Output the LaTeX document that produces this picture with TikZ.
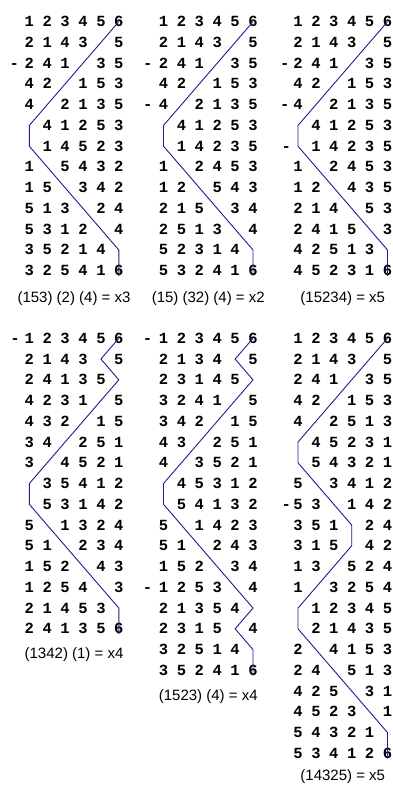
\documentclass[tikz,border=0pt]{standalone}
\usepackage{fontspec}
\setmainfont{Liberation Sans}
\newfontfamily\digfont{Liberation Mono}
\definecolor{trailblue}{RGB}{30,30,140}
\tikzset{
  dig/.style={font=\digfont\bfseries\fontsize{15.5}{15.5}\selectfont, inner sep=0pt, text height=10pt, text depth=0pt, anchor=center},
  trail/.style={draw=trailblue, line width=0.9pt, line join=miter},
  captext/.style={font=\fontsize{15}{15}\selectfont, inner sep=0pt, anchor=center}
}
\newcommand\pnlx{0}
\newcommand\pnly{0}
\newcommand\pnln{A}
\newcommand\prow[2]{\foreach \pd [count=\pc] in {#2}{\node[dig] (\pnln-#1-\pc) at ({\pnlx+(\pc-1)*17.9},{\pnly+(#1-1)*20.75}) {\pd};}}
\newcommand\pdash[2]{\node[dig] (\pnln-#1-0) at ({\pnlx-#2},{\pnly+(#1-1)*20.75}) {-};}
\newcommand\ptrail[2]{\draw[trail] (\pnln-1-6.center) \foreach \pc [count=\pr from 2] in {#1} {-- (\pnln-\pr-\pc.center)} -- (\pnln-#2-6.south);}
\newcommand\pcap[2]{\node[captext] (\pnln-cap) at ({\pnlx+44.75},{#1}) {#2};}
\begin{document}
\begin{tikzpicture}[x=1pt,y=-1pt]
\useasboundingbox (0,0) rectangle (393,785);
% ---------- Panel A ----------
\renewcommand\pnlx{29.3}\renewcommand\pnly{21.7}\renewcommand\pnln{A}
\prow{1}{1,2,3,4,5,6}
\prow{2}{2,1,4,3,,5}
\prow{3}{2,4,1,,3,5}\pdash{3}{15}
\prow{4}{4,2,,1,5,3}
\prow{5}{4,,2,1,3,5}
\prow{6}{,4,1,2,5,3}
\prow{7}{,1,4,5,2,3}
\prow{8}{1,,5,4,3,2}
\prow{9}{1,5,,3,4,2}
\prow{10}{5,1,3,,2,4}
\prow{11}{5,3,1,2,,4}
\prow{12}{3,5,2,1,4,}
\prow{13}{3,2,5,4,1,6}
\ptrail{5,4,3,2,1,1,2,3,4,5,6}{13}
\pcap{299}{(153) (2) (4) = x3}
% ---------- Panel B ----------
\renewcommand\pnlx{163.5}\renewcommand\pnly{21.7}\renewcommand\pnln{B}
\prow{1}{1,2,3,4,5,6}
\prow{2}{2,1,4,3,,5}
\prow{3}{2,4,1,,3,5}\pdash{3}{15.7}
\prow{4}{4,2,,1,5,3}
\prow{5}{4,,2,1,3,5}\pdash{5}{15.7}
\prow{6}{,4,1,2,5,3}
\prow{7}{,1,4,2,3,5}
\prow{8}{1,,2,4,5,3}
\prow{9}{1,2,,5,4,3}
\prow{10}{2,1,5,,3,4}
\prow{11}{2,5,1,3,,4}
\prow{12}{5,2,3,1,4,}
\prow{13}{5,3,2,4,1,6}
\ptrail{5,4,3,2,1,1,2,3,4,5,6}{13}
\pcap{299}{(15) (32) (4) = x2}
% ---------- Panel C ----------
\renewcommand\pnlx{298}\renewcommand\pnly{21.7}\renewcommand\pnln{C}
\prow{1}{1,2,3,4,5,6}
\prow{2}{2,1,4,3,,5}
\prow{3}{2,4,1,,3,5}\pdash{3}{13.3}
\prow{4}{4,2,,1,5,3}
\prow{5}{4,,2,1,3,5}\pdash{5}{13.3}
\prow{6}{,4,1,2,5,3}
\prow{7}{,1,4,2,3,5}\pdash{7}{11.7}
\prow{8}{1,,2,4,5,3}
\prow{9}{1,2,,4,3,5}
\prow{10}{2,1,4,,5,3}
\prow{11}{2,4,1,5,,3}
\prow{12}{4,2,5,1,3,}
\prow{13}{4,5,2,3,1,6}
\ptrail{5,4,3,2,1,1,2,3,4,5,6}{13}
\pcap{299}{(15234) = x5}
% ---------- Panel D ----------
\renewcommand\pnlx{29.3}\renewcommand\pnly{338.3}\renewcommand\pnln{D}
\prow{1}{1,2,3,4,5,6}\pdash{1}{14.3}
\prow{2}{2,1,4,3,,5}
\prow{3}{2,4,1,3,5,}
\prow{4}{4,2,3,1,,5}
\prow{5}{4,3,2,,1,5}
\prow{6}{3,4,,2,5,1}
\prow{7}{3,,4,5,2,1}
\prow{8}{,3,5,4,1,2}
\prow{9}{,5,3,1,4,2}
\prow{10}{5,,1,3,2,4}
\prow{11}{5,1,,2,3,4}
\prow{12}{1,5,2,,4,3}
\prow{13}{1,2,5,4,,3}
\prow{14}{2,1,4,5,3,}
\prow{15}{2,4,1,3,5,6}
\ptrail{5,6,5,4,3,2,1,1,2,3,4,5,6}{15}
\pcap{655}{(1342) (1) = x4}
% ---------- Panel E ----------
\renewcommand\pnlx{163.5}\renewcommand\pnly{338.3}\renewcommand\pnln{E}
\prow{1}{1,2,3,4,5,6}\pdash{1}{16}
\prow{2}{2,1,3,4,,5}
\prow{3}{2,3,1,4,5,}
\prow{4}{3,2,4,1,,5}
\prow{5}{3,4,2,,1,5}
\prow{6}{4,3,,2,5,1}
\prow{7}{4,,3,5,2,1}
\prow{8}{,4,5,3,1,2}
\prow{9}{,5,4,1,3,2}
\prow{10}{5,,1,4,2,3}
\prow{11}{5,1,,2,4,3}
\prow{12}{1,5,2,,3,4}
\prow{13}{1,2,5,3,,4}\pdash{13}{16}
\prow{14}{2,1,3,5,4,}
\prow{15}{2,3,1,5,,4}
\prow{16}{3,2,5,1,4,}
\prow{17}{3,5,2,4,1,6}
\ptrail{5,6,5,4,3,2,1,1,2,3,4,5,6,5,6}{17}
\pcap{697}{(1523) (4) = x4}
% ---------- Panel F ----------
\renewcommand\pnlx{298}\renewcommand\pnly{338.3}\renewcommand\pnln{F}
\prow{1}{1,2,3,4,5,6}
\prow{2}{2,1,4,3,,5}
\prow{3}{2,4,1,,3,5}
\prow{4}{4,2,,1,5,3}
\prow{5}{4,,2,5,1,3}
\prow{6}{,4,5,2,3,1}
\prow{7}{,5,4,3,2,1}
\prow{8}{5,,3,4,1,2}
\prow{9}{5,3,,1,4,2}\pdash{9}{11.7}
\prow{10}{3,5,1,,2,4}
\prow{11}{3,1,5,,4,2}
\prow{12}{1,3,,5,2,4}
\prow{13}{1,,3,2,5,4}
\prow{14}{,1,2,3,4,5}
\prow{15}{,2,1,4,3,5}
\prow{16}{2,,4,1,5,3}
\prow{17}{2,4,,5,1,3}
\prow{18}{4,2,5,,3,1}
\prow{19}{4,5,2,3,,1}
\prow{20}{5,4,3,2,1,}
\prow{21}{5,3,4,1,2,6}
\ptrail{5,4,3,2,1,1,2,3,4,4,3,2,1,1,2,3,4,5,6}{21}
\pcap{777}{(14325) = x5}
\end{tikzpicture}
\end{document}
